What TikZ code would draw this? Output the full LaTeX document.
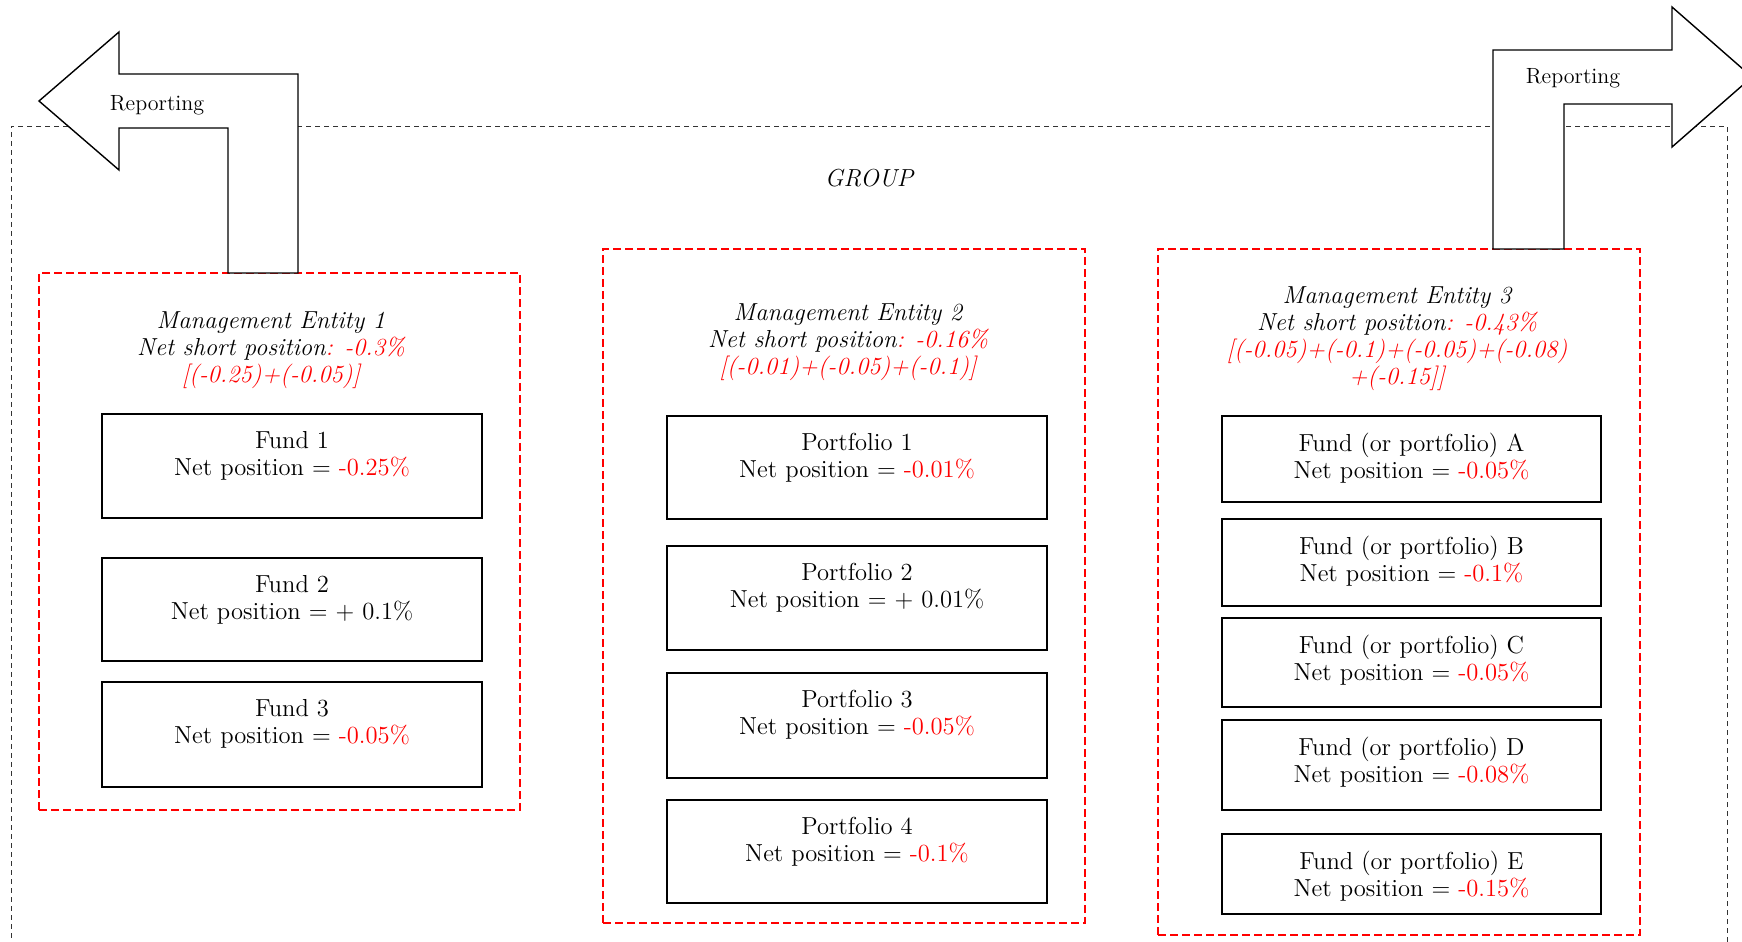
\documentclass[tikz,border=0pt]{standalone}
\usepackage{tikz}
\usetikzlibrary{fit}
\newcommand{\val}[1]{\textcolor{red}{#1}}
\begin{document}
\begin{tikzpicture}[x=.5pt,y=-.5pt,
    groupbox/.style={draw=black!80,dash pattern=on 2.5pt off 2pt,line width=.5pt,inner sep=0pt},
    entitybox/.style={draw=red,dash pattern=on 4pt off 2pt,line width=1.2pt,inner sep=0pt},
    fundbox/.style={draw=black,line width=.8pt,inner sep=0pt},
    fundtext/.style={anchor=north,align=center,inner sep=0pt,yshift=-8.7pt,font=\fontsize{12.3}{13.5}\selectfont},
    titletext/.style={align=center,inner sep=0pt,font=\fontsize{12.3}{13.5}\selectfont\itshape},
    reparrow/.style={draw=black,fill=white,line width=.7pt,line join=miter},
    reptext/.style={font=\fontsize{11}{13}\selectfont}]
    \useasboundingbox (0,0) rectangle (1742,942);
    \node[groupbox,fit={(11,126) (1727,990)}] (group) {};
    \node[titletext] (grouplabel) at (869,178) {GROUP};
    % management entities
    \node[entitybox,fit={(39,273) (520,810)}] (me1) {};
    \node[entitybox,fit={(603,249) (1085,923)}] (me2) {};
    \node[entitybox,fit={(1158,249) (1640,935)}] (me3) {};
    \node[titletext] (me1t) at (271,350) {Management Entity 1\\Net short position\val{: -0.3\%}\\\val{[(-0.25)+(-0.05)]}};
    \node[titletext] (me2t) at (848,342) {Management Entity 2\\Net short position\val{: -0.16\%}\\\val{[(-0.01)+(-0.05)+(-0.1)]}};
    \node[titletext] (me3t) at (1397,339) {Management Entity 3\\Net short position\val{: -0.43\%}\\\val{[(-0.05)+(-0.1)+(-0.05)+(-0.08)}\\\val{+(-0.15]]}};
    % funds of entity 1
    \node[fundbox,fit={(102,414) (482,518)}] (f1) {};
    \node[fundtext] at (f1.north) {Fund 1\\Net position = \val{-0.25\%}};
    \node[fundbox,fit={(102,558) (482,661)}] (f2) {};
    \node[fundtext] at (f2.north) {Fund 2\\Net position = + 0.1\%};
    \node[fundbox,fit={(102,682) (482,787)}] (f3) {};
    \node[fundtext] at (f3.north) {Fund 3\\Net position = \val{-0.05\%}};
    % portfolios of entity 2
    \node[fundbox,fit={(667,416) (1047,519)}] (p1) {};
    \node[fundtext] at (p1.north) {Portfolio 1\\Net position = \val{-0.01\%}};
    \node[fundbox,fit={(667,546) (1047,650)}] (p2) {};
    \node[fundtext] at (p2.north) {Portfolio 2\\Net position = + 0.01\%};
    \node[fundbox,fit={(667,673) (1047,778)}] (p3) {};
    \node[fundtext] at (p3.north) {Portfolio 3\\Net position = \val{-0.05\%}};
    \node[fundbox,fit={(667,800) (1047,903)}] (p4) {};
    \node[fundtext] at (p4.north) {Portfolio 4\\Net position = \val{-0.1\%}};
    % funds of entity 3
    \node[fundbox,fit={(1222,416) (1601,502)}] (fa) {};
    \node[fundtext] at (fa.north) {Fund (or portfolio) A\\Net position = \val{-0.05\%}};
    \node[fundbox,fit={(1222,519) (1601,606)}] (fb) {};
    \node[fundtext] at (fb.north) {Fund (or portfolio) B\\Net position = \val{-0.1\%}};
    \node[fundbox,fit={(1222,618) (1601,707)}] (fc) {};
    \node[fundtext] at (fc.north) {Fund (or portfolio) C\\Net position = \val{-0.05\%}};
    \node[fundbox,fit={(1222,720) (1601,810)}] (fd) {};
    \node[fundtext] at (fd.north) {Fund (or portfolio) D\\Net position = \val{-0.08\%}};
    \node[fundbox,fit={(1222,834) (1601,914)}] (fe) {};
    \node[fundtext] at (fe.north) {Fund (or portfolio) E\\Net position = \val{-0.15\%}};
    % reporting arrows
    \draw[reparrow] (39,101) -- (119,32) -- (119,74) -- (298,74) -- (298,273) -- (228,273)
      -- (228,128) -- (119,128) -- (119,170) -- cycle;
    \node[reptext] (repl) at (157,105) {Reporting};
    \draw[reparrow] (1493,249) -- (1493,50) -- (1672,50) -- (1672,7) -- (1752,77) -- (1672,147)
      -- (1672,104) -- (1564,104) -- (1564,249) -- cycle;
    \node[reptext] (repr) at (1573,78) {Reporting};
  \end{tikzpicture}
\end{document}
